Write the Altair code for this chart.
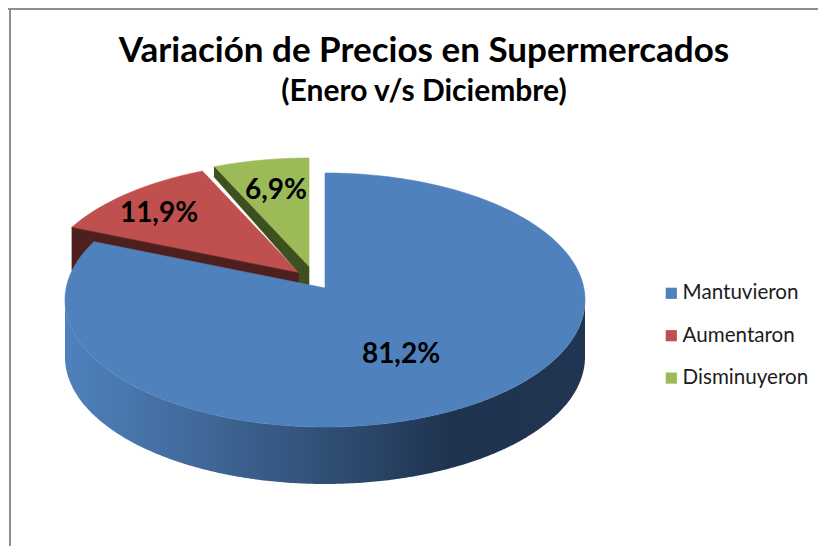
import numpy as np
import pandas as pd
import altair as alt

categories = ["Mantuvieron", "Aumentaron", "Disminuyeron"]
values = [81.2, 11.9, 6.9]
colors = ["#4f81bd", "#c0504d", "#9bbb59"]
dark_red = "#4f1f1d"
dark_green = "#3e4f20"

# layout (pixel geometry of the tilted pie)
RX, RY = 260.0, 127.0
DEPTH = 57.0
CENTERS = {"Mantuvieron": (325.0, 300.0), "Aumentaron": (299.0, 289.0), "Disminuyeron": (309.0, 285.0)}
APEX = {"Mantuvieron": (325.0, 288.0), "Aumentaron": (299.0, 273.0), "Disminuyeron": (309.0, 267.0)}
LABEL_POS = {"Mantuvieron": (401, 355), "Aumentaron": (159, 214), "Disminuyeron": (276, 191)}

W, H = 810, 538
X = alt.Scale(domain=[8, 8 + W], range=[0, W])
Y = alt.Scale(domain=[8 + H, 8], range=[H, 0])


def ray_hit(cat, a):
    """Where the ray of true angle a leaves the slice's apex and meets its ellipse."""
    cx, cy = CENTERS[cat]
    ax, ay = APEX[cat]
    dx, dy = RX * np.sin(a), -RY * np.cos(a)
    p, q = (ax - cx) / RX, (ay - cy) / RY
    u, v = dx / RX, dy / RY
    A, B, C = u * u + v * v, 2 * (p * u + q * v), p * p + q * q - 1
    t = (-B + np.sqrt(B * B - 4 * A * C)) / (2 * A)
    return ax + t * dx, ay + t * dy


def param(cat, pt):
    cx, cy = CENTERS[cat]
    return np.arctan2((pt[0] - cx) / RX, -(pt[1] - cy) / RY) % (2 * np.pi)


def slice_top(cat, a0, a1):
    cx, cy = CENTERS[cat]
    p0, p1 = ray_hit(cat, a0), ray_hit(cat, a1)
    t0, t1 = param(cat, p0), param(cat, p1)
    if t1 <= t0:
        t1 += 2 * np.pi
    ts = np.linspace(t0, t1, 240)
    xs = cx + RX * np.sin(ts)
    ys = cy - RY * np.cos(ts)
    apex = APEX[cat]
    return [apex] + list(zip(xs, ys)) + [apex], p0, p1


bounds = np.cumsum([0] + values) / 100 * 2 * np.pi
tops, ends = {}, {}
for i, c in enumerate(categories):
    tops[c], p0, p1 = slice_top(c, bounds[i], bounds[i + 1])
    ends[c] = (p0, p1)


def poly(points, color, sw=0.6):
    df = pd.DataFrame(points, columns=["px", "py"])
    df["i"] = range(len(df))
    return alt.Chart(df).mark_line(fill=color, stroke=color, strokeWidth=sw).encode(
        x=alt.X("px:Q", scale=X, axis=None),
        y=alt.Y("py:Q", scale=Y, axis=None),
        order="i:Q",
    )


# cut faces of the exploded slices
red_apex = APEX["Aumentaron"]
red_far = ends["Aumentaron"][0]
green_apex = APEX["Disminuyeron"]
green_far = ends["Disminuyeron"][0]
red_cut = poly([red_far, red_apex, (red_apex[0], red_apex[1] + 13),
                (red_far[0], red_far[1] + 42)], dark_red)
green_cut = poly([green_far, green_apex, (green_apex[0], green_apex[1] + 19),
                  (red_apex[0], red_apex[1] + 12), red_apex,
                  (green_far[0], green_far[1] + 10)], dark_green)

# front wall of the main slice
cx, cy = CENTERS["Mantuvieron"]
th = np.linspace(-np.pi / 2, np.pi / 2, 300)
wall_df = pd.DataFrame({"px": cx + RX * np.sin(th)})
wall_df["top"] = cy + RY * np.cos(th)
wall_df["bot"] = cy + DEPTH + RY * np.cos(th)
wall = alt.Chart(wall_df).mark_area(
    color=alt.Gradient(
        gradient="linear",
        stops=[
            alt.GradientStop(color="#4f81bd", offset=0.0),
            alt.GradientStop(color="#3f6696", offset=0.28),
            alt.GradientStop(color="#2d4a6e", offset=0.55),
            alt.GradientStop(color="#1e334f", offset=0.74),
            alt.GradientStop(color="#1f3552", offset=1.0),
        ],
        x1=0, x2=1, y1=0, y2=0,
    )
).encode(
    x=alt.X("px:Q", scale=X, axis=None),
    y=alt.Y("top:Q", scale=Y, axis=None),
    y2="bot:Q",
)

# legend carrier, hidden under the pie
legend_df = pd.DataFrame({"cat": categories, "px": [cx] * 3, "py": [cy] * 3})
legend_layer = alt.Chart(legend_df).mark_square(size=4, opacity=1).encode(
    x=alt.X("px:Q", scale=X, axis=None),
    y=alt.Y("py:Q", scale=Y, axis=None),
    color=alt.Color(
        "cat:N",
        scale=alt.Scale(domain=categories, range=colors),
        sort=categories,
        legend=alt.Legend(
            title=None, orient="none", legendX=653, legendY=275,
            symbolType="square", symbolSize=125, symbolStrokeWidth=0, symbolOpacity=1,
            labelFont="Lato", labelFontSize=20.6, labelColor="#1c1c1c",
            labelLimit=200, rowPadding=21.4, labelOffset=1,
        ),
    ),
)

# percent labels
label_df = pd.DataFrame({
    "txt": [f"{v:.1f}".replace(".", ",") + "%" for v in values],
    "px": [LABEL_POS[c][0] for c in categories],
    "py": [LABEL_POS[c][1] for c in categories],
})
labels = alt.Chart(label_df).mark_text(
    font="Lato", fontWeight="bold", fontSize=28, color="#000000", baseline="middle", align="center"
).encode(
    x=alt.X("px:Q", scale=X, axis=None),
    y=alt.Y("py:Q", scale=Y, axis=None),
    text="txt:N",
)

# chart frame
frame_color = "#8e8e8e"
frame_top = alt.Chart(pd.DataFrame({"a": [8], "b": [8 + W], "c": [9]})).mark_rule(
    color=frame_color, strokeWidth=2
).encode(x=alt.X("a:Q", scale=X, axis=None), x2="b:Q", y=alt.Y("c:Q", scale=Y, axis=None))
frame_left = alt.Chart(pd.DataFrame({"a": [10], "c": [8], "d": [8 + H]})).mark_rule(
    color=frame_color, strokeWidth=2
).encode(x=alt.X("a:Q", scale=X, axis=None), y=alt.Y("c:Q", scale=Y, axis=None), y2="d:Q")

chart = alt.layer(
    frame_top,
    frame_left,
    legend_layer,
    poly(tops["Aumentaron"], colors[1]),
    red_cut,
    poly(tops["Disminuyeron"], colors[2]),
    green_cut,
    wall,
    poly(tops["Mantuvieron"], colors[0]),
    labels,
).properties(
    width=W,
    height=H,
    padding=0,
    autosize=alt.AutoSizeParams(type="none"),
    title=alt.TitleParams(
        text="Variación de Precios en Supermercados",
        subtitle="(Enero v/s Diciembre)",
        anchor="middle", orient="top", offset=-100, dx=11,
        font="Lato", fontSize=35, fontWeight="bold", color="#000000",
        subtitleFont="Lato", subtitleFontSize=30, subtitleFontWeight="bold", subtitleColor="#000000",
        subtitlePadding=8,
    ),
).configure_view(stroke=None)

chart.save("out.html", embed_options={"renderer": "svg", "actions": False})
